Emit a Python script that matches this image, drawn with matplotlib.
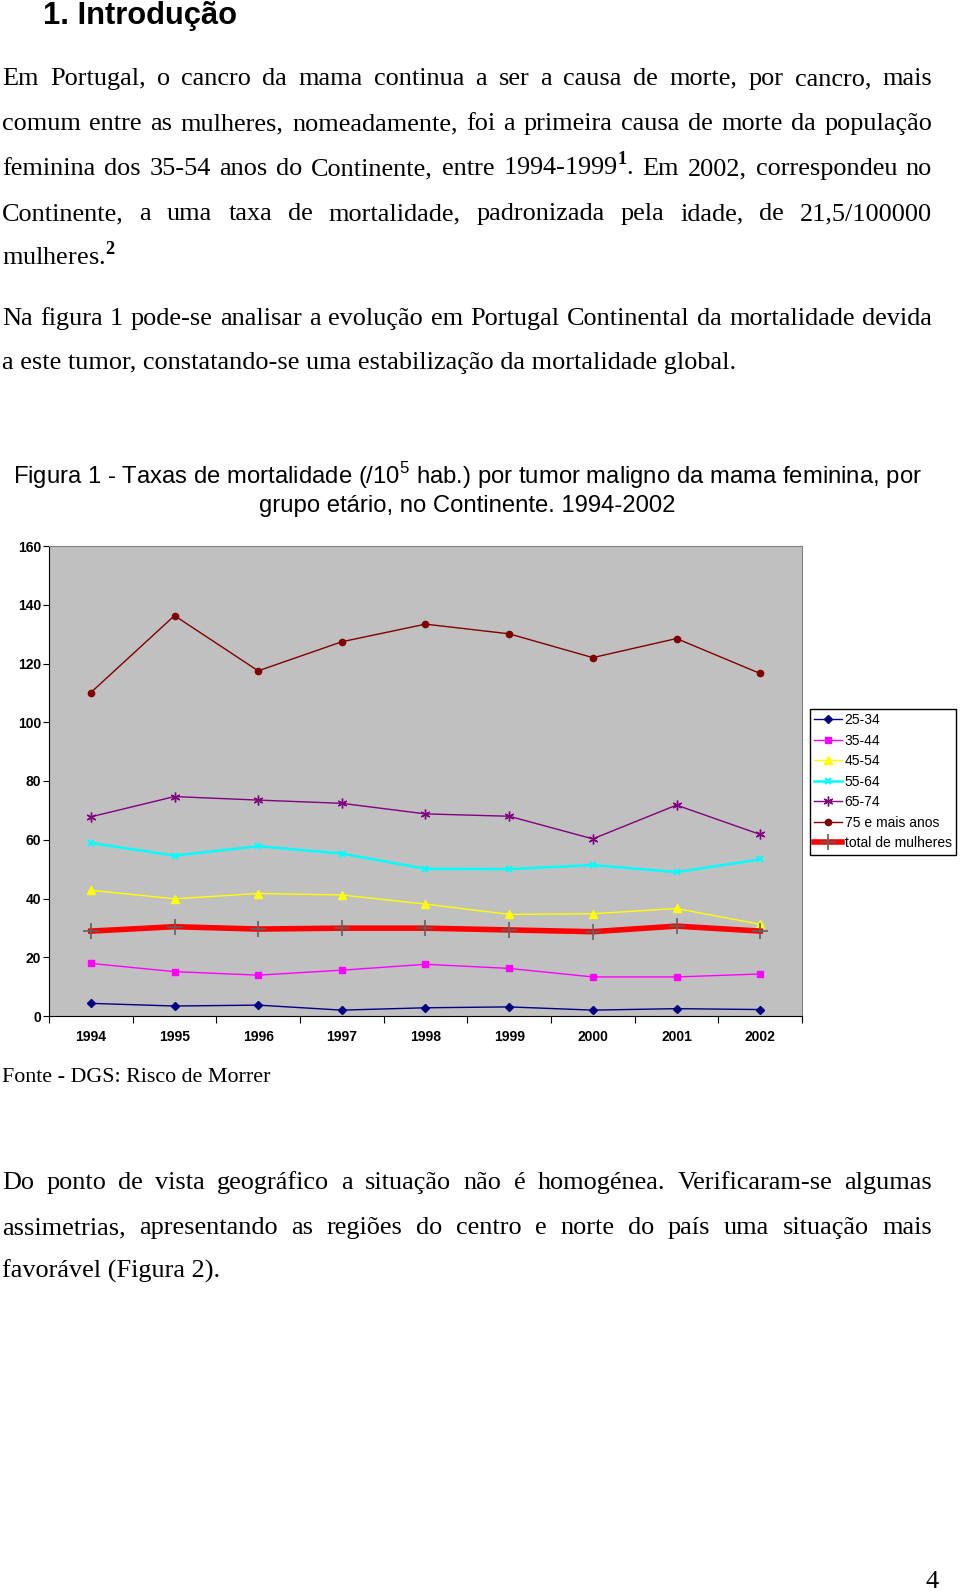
import matplotlib
matplotlib.use("Agg")
import matplotlib.pyplot as plt

# data (taxa /10^5 hab.)
years = ["1994", "1995", "1996", "1997", "1998", "1999", "2000", "2001", "2002"]
g25_34 = [4.3, 3.4, 3.7, 2.0, 2.8, 3.1, 2.0, 2.5, 2.2]
g35_44 = [17.9, 15.1, 13.9, 15.6, 17.6, 16.2, 13.3, 13.3, 14.3]
g45_54 = [42.8, 39.9, 41.7, 41.2, 38.1, 34.6, 34.8, 36.6, 31.2]
g55_64 = [58.9, 54.6, 57.8, 55.3, 50.1, 50.0, 51.4, 49.0, 53.3]
g65_74 = [67.8, 74.7, 73.5, 72.4, 68.8, 68.0, 60.3, 71.8, 61.8]
g75_mais = [110.1, 136.3, 117.5, 127.4, 133.4, 130.1, 122.0, 128.5, 116.6]
total = [28.9, 30.4, 29.6, 29.9, 29.9, 29.3, 28.7, 30.6, 28.9]
labels = ["25-34", "35-44", "45-54", "55-64", "65-74", "75 e mais anos", "total de mulheres"]

W, H = 960, 1592
plt.rcParams["mathtext.fontset"] = "custom"
plt.rcParams["mathtext.rm"] = "Liberation Serif"
plt.rcParams["mathtext.bf"] = "Liberation Serif:bold"
plt.rcParams["mathtext.sf"] = "Liberation Sans"

fig = plt.figure(figsize=(W / 100, H / 100), dpi=100)
renderer = fig.canvas.get_renderer()


def fx(x):
    return x / W


def fy(y):
    return 1 - y / H


def put(x, y, s, **kw):
    return fig.text(fx(x), fy(y), s, va="baseline", **kw)


serif = dict(family="Liberation Serif")

# pick body size so the known line width matches
probe = put(0, 0, "a este tumor, constatando-se uma estabilização da mortalidade global.",
            fontsize=20, **serif)
fs_body = 20 * 731 / probe.get_window_extent(renderer).width
probe.remove()
body = dict(fontsize=fs_body, **serif)


def justify(line, y, x0=2, x1=932):
    words = line.split(" ")
    objs = [put(x0, y, w, **body) for w in words]
    widths = [o.get_window_extent(renderer).width for o in objs]
    gap = (x1 - x0 - sum(widths)) / (len(words) - 1)
    x = x0
    for o, w in zip(objs, widths):
        o.set_x(fx(x))
        x += w + gap


put(43, 24, "1. Introdução", family="Liberation Sans", fontweight="bold", fontsize=22.2)

justify("Em Portugal, o cancro da mama continua a ser a causa de morte, por cancro, mais", 85)
justify("comum entre as mulheres, nomeadamente, foi a primeira causa de morte da população", 130)
justify(r"feminina dos 35-54 anos do Continente, entre 1994-1999$^{\mathbf{1}}$. Em 2002, correspondeu no", 175)
justify("Continente, a uma taxa de mortalidade, padronizada pela idade, de 21,5/100000", 220)
put(2, 265, r"mulheres.$^{\mathbf{2}}$", **body)

justify("Na figura 1 pode-se analisar a evolução em Portugal Continental da mortalidade devida", 325)
put(2, 369, "a este tumor, constatando-se uma estabilização da mortalidade global.", **body)

title_kw = dict(family="Liberation Sans", fontsize=17.2, ha="center")
put(467, 484, r"Figura 1 - Taxas de mortalidade (/10$^{\mathsf{5}}$ hab.) por tumor maligno da mama feminina, por",
    **title_kw)
put(467, 512, "grupo etário, no Continente. 1994-2002", **title_kw)

put(2, 1082, "Fonte - DGS: Risco de Morrer", family="Liberation Serif", fontsize=15.8)

justify("Do ponto de vista geográfico a situação não é homogénea. Verificaram-se algumas", 1189)
justify("assimetrias, apresentando as regiões do centro e norte do país uma situação mais", 1234)
put(2, 1278, "favorável (Figura 2).", **body)

put(925, 1588, "4", **body)

# chart
ax = fig.add_axes([fx(49), fy(1016), 753 / W, 470 / H])
ax.set_facecolor("#C0C0C0")
xs = list(range(len(years)))

styles = [
    (g25_34, "#000080", "D", 4.0, 1.0, "#000080", 1.0),
    (g35_44, "#FF00FF", "s", 4.5, 1.0, "#FF00FF", 1.0),
    (g45_54, "#FFFF00", "^", 5.5, 1.0, "#FFFF00", 1.0),
    (g55_64, "#00FFFF", "x", 5.0, 1.8, "#00FFFF", 1.5),
    (g65_74, "#800080", (6, 2, 0), 7.0, 1.0, "#800080", 1.0),
    (g75_mais, "#800000", "o", 4.5, 1.0, "#800000", 1.0),
    (total, "#FF0000", "+", 12.0, 4.0, "#606060", 1.2),
]
for (vals, col, mk, ms, lw, mec, mew), lab in zip(styles, labels):
    ax.plot(xs, vals, color=col, marker=mk, markersize=ms, linewidth=lw,
            markerfacecolor=col, markeredgecolor=mec, markeredgewidth=mew, label=lab)

ax.set_xlim(-0.5, len(years) - 0.5)
ax.set_ylim(0, 160)
ax.set_xticks([i - 0.5 for i in range(len(years) + 1)])
ax.set_xticklabels([])
ax.set_xticks(xs, minor=True)
ax.set_xticklabels(years, minor=True, family="Liberation Sans", fontweight="bold", fontsize=10)
ax.tick_params(axis="x", which="major", length=5, direction="out", color="black")
ax.tick_params(axis="x", which="minor", length=0, pad=10)
ax.set_yticks(range(0, 161, 20))
ax.set_yticklabels([str(v) for v in range(0, 161, 20)], family="Liberation Sans",
                   fontweight="bold", fontsize=10)
ax.tick_params(axis="y", length=4, pad=1.5, color="black")
for s in ["left", "bottom"]:
    ax.spines[s].set_color("black")
for s in ["top", "right"]:
    ax.spines[s].set_color("#808080")

leg = ax.legend(loc="upper left", bbox_to_anchor=(fx(810), fy(709)), bbox_transform=fig.transFigure,
                borderaxespad=0, fancybox=False, frameon=True, edgecolor="black", framealpha=1,
                prop=dict(family="Liberation Sans", size=10.0), labelspacing=0.47,
                handlelength=2.0, handletextpad=0.2, borderpad=0.3)
leg.get_frame().set_linewidth(1.0)

fig.savefig("out.png", dpi=100, facecolor="white")
